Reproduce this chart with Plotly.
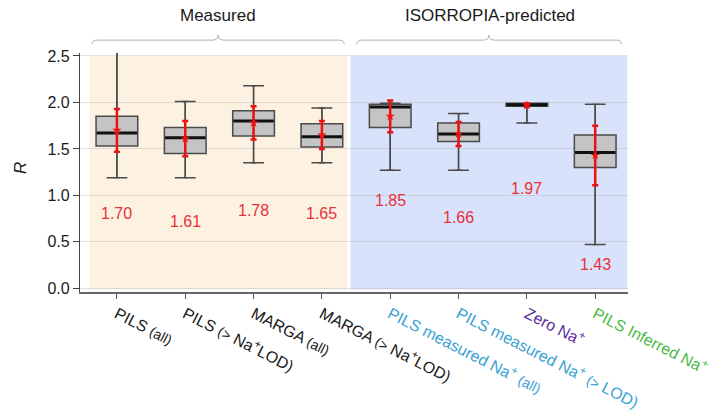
import plotly.graph_objects as go

# Category labels (rich text: smaller qualifiers, superscript charges, group colours)
BLACK = "#1a1a1a"
BLUE = "#39a2d4"
PURPLE = "#5b2c9e"
GREEN = "#4cbb47"


def small(t):
    return f'<span style="font-size:14px">{t}</span>'


tick_labels = [
    f'<span style="color:{BLACK}">PILS {small("(all)")}</span>',
    f'<span style="color:{BLACK}">PILS {small("(&gt;")} Na<sup>+</sup>LOD)</span>',
    f'<span style="color:{BLACK}">MARGA {small("(all)")}</span>',
    f'<span style="color:{BLACK}">MARGA {small("(&gt;")} Na<sup>+</sup>LOD)</span>',
    f'<span style="color:{BLUE}">PILS measured Na<sup>+</sup> {small("(all)")}</span>',
    f'<span style="color:{BLUE}">PILS measured Na<sup>+</sup> {small("(&gt;")} LOD)</span>',
    f'<span style="color:{PURPLE}">Zero Na<sup>+</sup></span>',
    f'<span style="color:{GREEN}">PILS Inferred Na<sup>+</sup></span>',
]

# Box statistics of R for each dataset
whisker_low = [1.19, 1.19, 1.35, 1.35, 1.27, 1.27, 1.78, 0.47]
q1 = [1.53, 1.45, 1.64, 1.52, 1.73, 1.58, 1.96, 1.30]
median = [1.67, 1.62, 1.80, 1.63, 1.95, 1.66, 1.975, 1.46]
q3 = [1.85, 1.73, 1.91, 1.77, 1.98, 1.78, 1.99, 1.65]
whisker_high = [2.56, 2.01, 2.18, 1.94, 1.99, 1.88, 1.99, 1.98]

# Mean and standard deviation (red markers)
mean = [1.70, 1.61, 1.78, 1.65, 1.85, 1.66, 1.97, 1.43]
std = [0.23, 0.19, 0.18, 0.15, 0.17, 0.13, 0.02, 0.32]

# Vertical placement of the mean value labels
label_y = [0.80, 0.72, 0.84, 0.80, 0.95, 0.76, 1.07, 0.26]

xs = list(range(len(tick_labels)))
BOX_W = 0.61
FONT = "Arial, Liberation Sans, sans-serif"

fig = go.Figure()

# Whiskers with end caps
fig.add_trace(go.Scatter(
    x=xs, y=median, mode="markers",
    marker=dict(size=1, color="rgba(0,0,0,0)"),
    error_y=dict(
        type="data", symmetric=False,
        array=[h - m for h, m in zip(whisker_high, median)],
        arrayminus=[m - l for m, l in zip(median, whisker_low)],
        color="#4a4a4a", thickness=1.3, width=3,
    ),
    hoverinfo="skip", showlegend=False,
))

# Boxes
fig.add_trace(go.Box(
    x=xs, q1=q1, median=median, q3=q3,
    lowerfence=whisker_low, upperfence=whisker_high,
    width=BOX_W, fillcolor="#c4c4c4",
    line=dict(color="#4a4a4a", width=1.5),
    boxpoints=False, hoverinfo="skip", showlegend=False,
))

# Thick median lines
mx, my = [], []
half = BOX_W / 2 - 0.01
for x, m in zip(xs, median):
    mx += [x - half, x + half, None]
    my += [m, m, None]
fig.add_trace(go.Scatter(
    x=mx, y=my, mode="lines",
    line=dict(color="#111111", width=3),
    hoverinfo="skip", showlegend=False,
))

# Mean +/- standard deviation
fig.add_trace(go.Scatter(
    x=xs, y=mean, mode="markers",
    marker=dict(symbol="star", size=7, color="#ee1111"),
    error_y=dict(type="data", array=std, color="#ee1111", thickness=2.5, width=3),
    hoverinfo="skip", showlegend=False,
))

# Mean value labels
for x, m, ly in zip(xs, mean, label_y):
    fig.add_annotation(
        x=x, y=ly, text=f"{m:.2f}", showarrow=False,
        font=dict(size=16, color="#e8303a", family=FONT),
    )

# Group shading
fig.add_shape(type="rect", xref="x", yref="y", x0=-0.40, x1=3.37, y0=-0.01, y1=2.5,
              fillcolor="#fdf2e2", line_width=0, layer="below")
fig.add_shape(type="rect", xref="x", yref="y", x0=3.42, x1=7.47, y0=-0.01, y1=2.5,
              fillcolor="#d9e2fb", line_width=0, layer="below")


# Group brackets and headings (paper coordinates above the plot area)
def bracket(x0, x1, xc, y=1.054, drop=0.017, nub=0.021):
    path = (f"M {x0},{y - drop} Q {x0},{y} {x0 + 0.01},{y} "
            f"L {xc - 0.01},{y} Q {xc},{y} {xc},{y + nub} "
            f"Q {xc},{y} {xc + 0.01},{y} L {x1 - 0.01},{y} "
            f"Q {x1},{y} {x1},{y - drop}")
    fig.add_shape(type="path", xref="paper", yref="paper", path=path,
                  line=dict(color="#b0b0b0", width=1))


bracket(0.022, 0.482, 0.252)
bracket(0.505, 0.988, 0.746)

for text, xc in [("Measured", 0.252), ("ISORROPIA-predicted", 0.748)]:
    fig.add_annotation(
        xref="paper", yref="paper", x=xc, y=1.155, text=text, showarrow=False,
        xanchor="center", yanchor="middle",
        font=dict(size=17, color="#1a1a1a", family=FONT),
    )

# Y axis title
fig.add_annotation(
    xref="paper", yref="paper", x=-0.109, y=0.52, text="<i>R</i>",
    showarrow=False, textangle=-90, xanchor="center", yanchor="middle",
    font=dict(size=17, color="#1a1a1a", family=FONT),
)

fig.update_layout(
    width=722, height=419,
    margin=dict(l=80, r=94, t=53, b=127, autoexpand=False),
    paper_bgcolor="white", plot_bgcolor="white",
    font=dict(family=FONT, color="#1a1a1a"),
    showlegend=False,
)

fig.update_xaxes(
    range=[-0.54, 7.48], tickmode="array", tickvals=xs, ticktext=tick_labels,
    tickangle=27, ticks="outside", ticklen=5, tickcolor="#555",
    showline=True, linecolor="#666", linewidth=1.5,
    showgrid=False, zeroline=False, automargin=False,
    tickfont=dict(size=16, family=FONT),
)

fig.update_yaxes(
    range=[-0.04, 2.532], tickvals=[0, 0.5, 1.0, 1.5, 2.0, 2.5],
    ticktext=["0.0", "0.5", "1.0", "1.5", "2.0", "2.5"],
    ticks="outside", ticklen=6, tickcolor="#444",
    showline=True, linecolor="#444", linewidth=1.2,
    showgrid=True, gridcolor="rgba(170,170,170,0.35)", gridwidth=1,
    zeroline=False, automargin=False,
    tickfont=dict(size=16, family=FONT, color="#1a1a1a"),
)

fig.write_html("out.html")
